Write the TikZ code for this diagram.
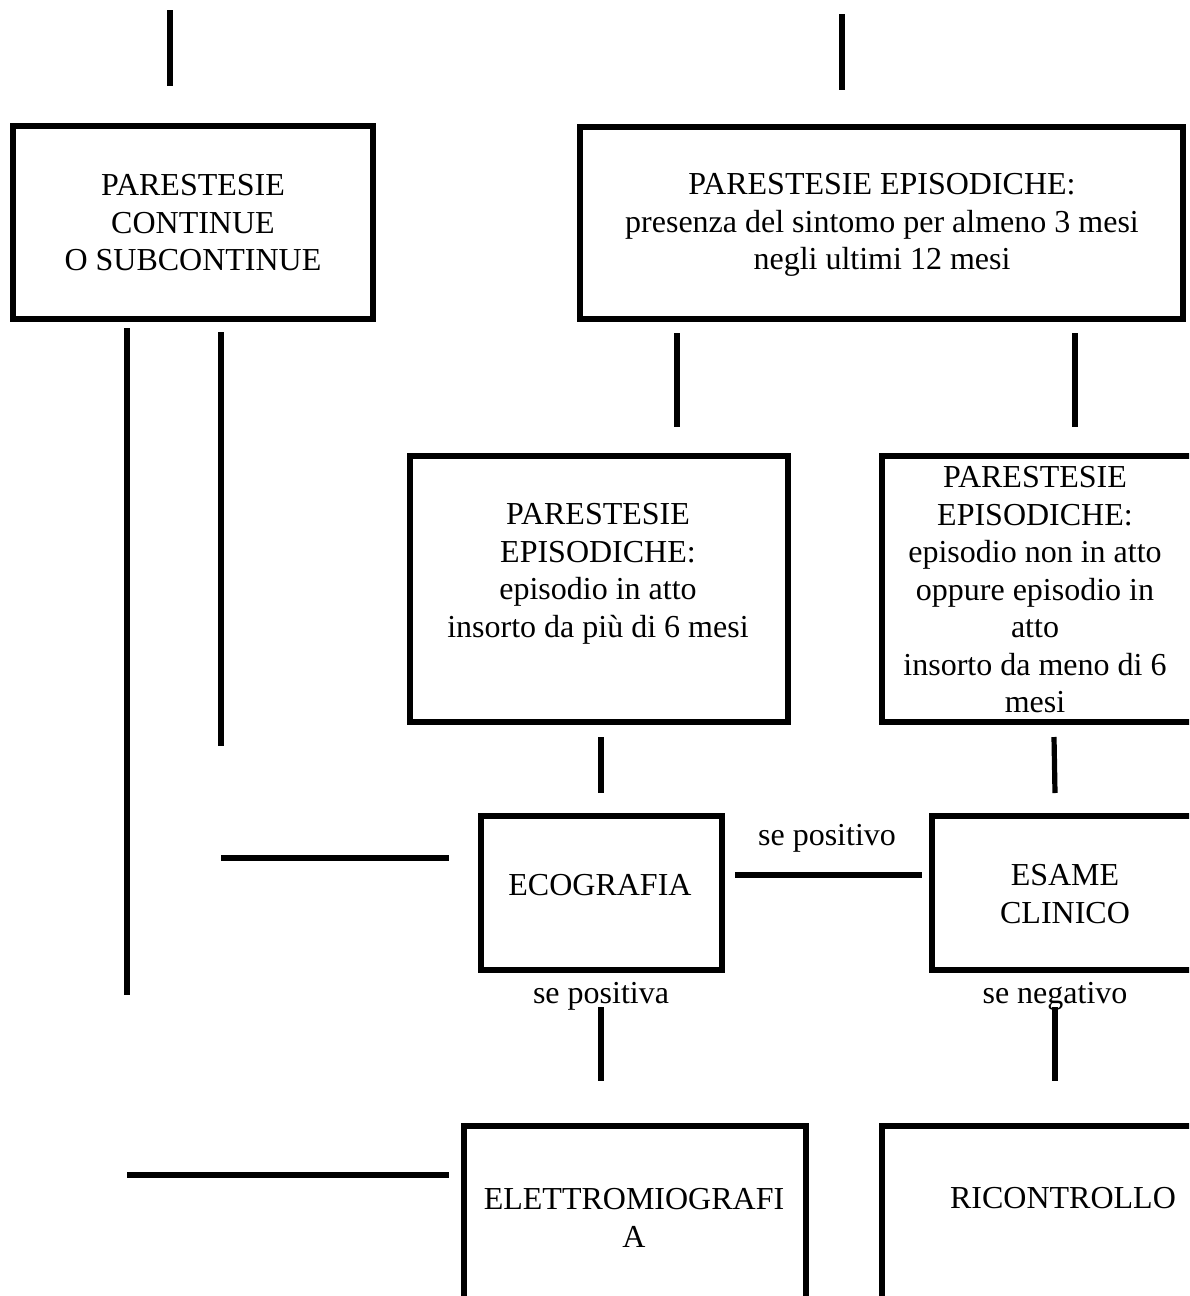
\documentclass[tikz,border=0pt]{standalone}
\usepackage{fontspec}
\setmainfont{Liberation Serif}
\begin{document}
\begin{tikzpicture}[x=0.5pt,y=-0.5pt,
  box/.style={draw, line width=3pt, inner sep=0pt},
  txt/.style={align=center, inner sep=0pt, font=\fontsize{16}{18.75}\selectfont},
  conn/.style={line width=2.6pt}]
\useasboundingbox (0,0) rectangle (1189,1296);
\clip (0,0) rectangle (1189,1296);
% boxes (width/height in px -> pt = px/2)
\node[box, minimum width=180pt, minimum height=96.5pt] (A) at (193,222.5) {};
\node[box, minimum width=301.5pt, minimum height=96pt] (B) at (881.5,223) {};
\node[box, minimum width=189pt, minimum height=133pt] (C) at (598.5,589) {};
\node[box, minimum width=156.5pt, minimum height=133pt] (D) at (1038.5,589) {};
\node[box, minimum width=120.5pt, minimum height=77pt] (E) at (601.5,893) {};
\node[box, minimum width=134pt, minimum height=77pt] (F) at (1066,893) {};
\node[box, minimum width=171pt, minimum height=93pt] (G) at (635,1219) {};
\node[box, minimum width=184pt, minimum height=93pt] (H) at (1066,1219) {};
% texts
\node[txt] (tA) at (193,223) {PARESTESIE\\CONTINUE\\O SUBCONTINUE};
\node[txt] (tB) at (882,225) {PARESTESIE EPISODICHE:\\presenza del sintomo per almeno 3 mesi\\negli ultimi 12 mesi};
\node[txt] (tC) at (598,574) {PARESTESIE\\EPISODICHE:\\episodio in atto\\insorto da più di 6 mesi};
\node[txt] (tD) at (1035,590) {PARESTESIE\\EPISODICHE:\\episodio non in atto\\oppure episodio in\\atto\\insorto da meno di 6\\mesi};
\node[txt] (tE) at (600,885) {ECOGRAFIA};
\node[txt] (tF) at (1065,894) {ESAME\\CLINICO};
\node[txt] (tG) at (634,1218) {ELETTROMIOGRAFI\\A};
\node[txt] (tH) at (1063,1198) {RICONTROLLO};
% labels
\node[txt] (l1) at (827,838) {se positivo};
\node[txt] (l2) at (601,996) {se positiva};
\node[txt] (l3) at (1055,996) {se negativo};
% connector end points
\coordinate (p1a) at (170,10);   \coordinate (p1b) at (170,86);
\coordinate (p2a) at (842,14);   \coordinate (p2b) at (842,90);
\coordinate (p3a) at (127,328);  \coordinate (p3b) at (127,995);
\coordinate (p4a) at (221,332);  \coordinate (p4b) at (221,746);
\coordinate (p5a) at (677,333);  \coordinate (p5b) at (677,427);
\coordinate (p6a) at (1075,333); \coordinate (p6b) at (1075,427);
\coordinate (p7a) at (601,737);  \coordinate (p7b) at (601,793);
\coordinate (p8a) at (1054,737); \coordinate (p8b) at (1055,793);
\coordinate (h1a) at (221,858);  \coordinate (h1b) at (449,858);
\coordinate (h2a) at (735,875);  \coordinate (h2b) at (922,875);
\coordinate (p9a) at (601,1007); \coordinate (p9b) at (601,1081);
\coordinate (p10a) at (1055,1007); \coordinate (p10b) at (1055,1081);
\coordinate (h3a) at (127,1175); \coordinate (h3b) at (449,1175);
\draw[conn] (p1a) -- (p1b);
\draw[conn] (p2a) -- (p2b);
\draw[conn] (p3a) -- (p3b);
\draw[conn] (p4a) -- (p4b);
\draw[conn] (p5a) -- (p5b);
\draw[conn] (p6a) -- (p6b);
\draw[conn] (p7a) -- (p7b);
\draw[conn] (p8a) -- (p8b);
\draw[conn] (h1a) -- (h1b);
\draw[conn] (h2a) -- (h2b);
\draw[conn] (p9a) -- (p9b);
\draw[conn] (p10a) -- (p10b);
\draw[conn] (h3a) -- (h3b);
\end{tikzpicture}
\end{document}
